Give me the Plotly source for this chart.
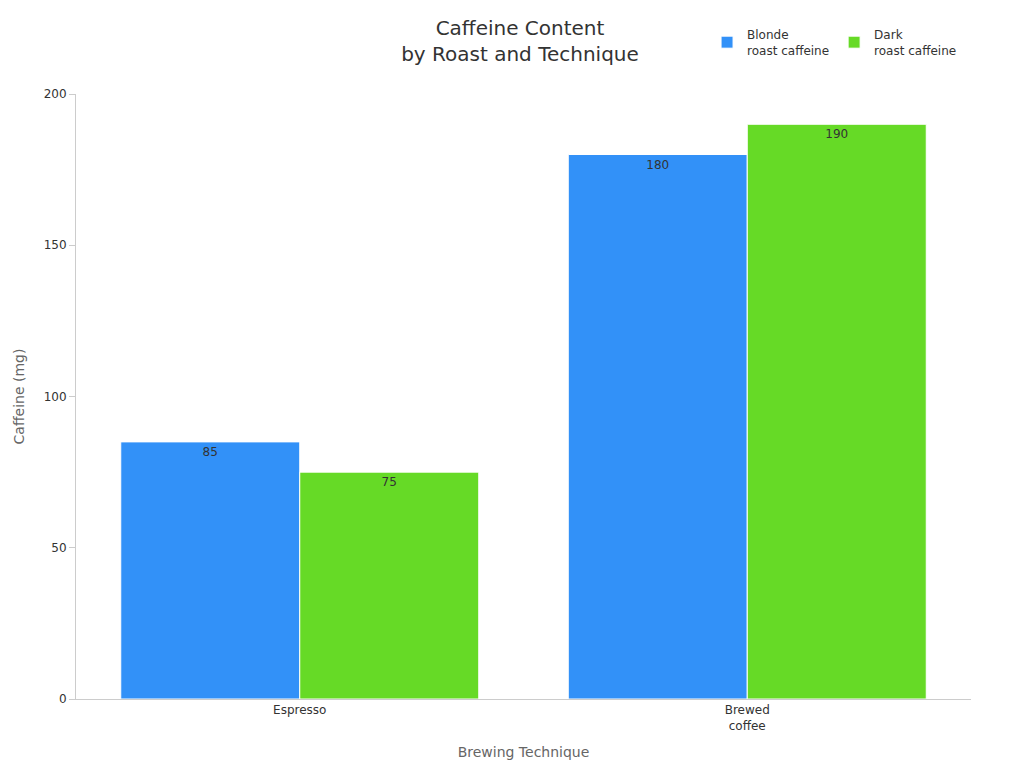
import plotly.graph_objects as go

categories = ["Espresso", "Brewed<br>coffee"]
blonde = [85, 180]
dark = [75, 190]
series_names = ["Blonde<br>roast caffeine", "Dark<br>roast caffeine"]

fig = go.Figure()
for name, vals, col in [(series_names[0], blonde, "#3291F8"), (series_names[1], dark, "#66DA26")]:
    fig.add_trace(go.Bar(x=categories, y=vals, name=name, marker=dict(color=col, line=dict(color="white", width=1)),
                         text=vals, textposition="inside", insidetextanchor="end",
                         textfont=dict(color="#333333", size=12)))

fig.update_layout(
    width=1024, height=768, barmode="group", bargap=0.2,
    font=dict(family="DejaVu Sans", color="#333333", size=12),
    plot_bgcolor="white", paper_bgcolor="white",
    margin=dict(l=68, r=61, t=80, b=77),
    title=dict(text="Caffeine Content<br>by Roast and Technique", x=0.5, xanchor="center", y=0.965, yanchor="top",
               font=dict(size=20, color="#333333")),
    legend=dict(orientation="h", x=0.99, xanchor="right", y=1.085, yanchor="middle", font=dict(size=12)),
    xaxis=dict(title=dict(text="Brewing Technique", font=dict(size=14, color="#666666")),
               showline=True, linecolor="#cccccc", ticks="", showgrid=False),
    yaxis=dict(title=dict(text="Caffeine (mg)", font=dict(size=14, color="#666666")), range=[0, 200],
               tickvals=[0, 50, 100, 150, 200], showline=True, linecolor="#cccccc", ticks="outside",
               tickcolor="#cccccc", ticklen=6, showgrid=False, zeroline=False),
)
fig.write_html("out.html")
